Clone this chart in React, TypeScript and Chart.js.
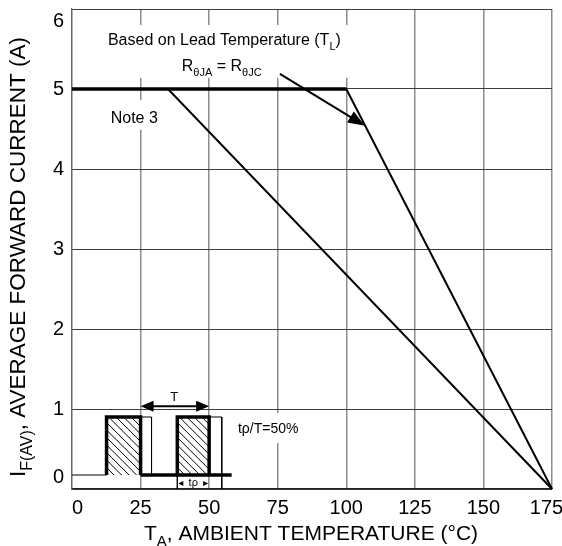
import React, { useEffect, useRef } from 'react';
import { Chart, registerables } from 'chart.js';
Chart.register(...registerables);

const FONT = '"Liberation Sans", Arial, Helvetica, sans-serif';

// axes
const tempTicks = [0, 25, 50, 75, 100, 125, 150, 175];
const currentTicks = [0, 1, 2, 3, 4, 5, 6];

// derating curves
const note3Temp = [0, 35, 175];
const note3Current = [5, 5, 0];
const leadTemp = [0, 100, 175];
const leadCurrent = [5, 5, 0];

// inset pulse waveform (in chart units)
const pulseStart = [12.6, 38.4];
const pulseEnd = [25, 50];
const pulseTrail = [29, 54.6];
const pulseHigh = 0.9;
const pulseLow = 0.175;
const waveEnd = 58.2;

type Part = { t: string; sub?: boolean };

function richWidth(ctx: CanvasRenderingContext2D, parts: Part[], size: number) {
  let w = 0;
  for (const p of parts) {
    ctx.font = `${p.sub ? Math.round(size * 0.7) : size}px ${FONT}`;
    w += ctx.measureText(p.t).width;
  }
  return w;
}

function rich(ctx: CanvasRenderingContext2D, parts: Part[], x: number, y: number, size: number, align: 'left' | 'center') {
  const w = richWidth(ctx, parts, size);
  let cx = align === 'center' ? x - w / 2 : x;
  ctx.textAlign = 'left';
  ctx.textBaseline = 'alphabetic';
  for (const p of parts) {
    ctx.font = `${p.sub ? Math.round(size * 0.7) : size}px ${FONT}`;
    ctx.fillText(p.t, cx, p.sub ? y + size * 0.3 : y);
    cx += ctx.measureText(p.t).width;
  }
}

function arrowHead(ctx: CanvasRenderingContext2D, x1: number, y1: number, x2: number, y2: number, len: number, half: number) {
  const a = Math.atan2(y2 - y1, x2 - x1);
  ctx.beginPath();
  ctx.moveTo(x2, y2);
  ctx.lineTo(x2 - len * Math.cos(a) + half * Math.sin(a), y2 - len * Math.sin(a) - half * Math.cos(a));
  ctx.lineTo(x2 - len * Math.cos(a) - half * Math.sin(a), y2 - len * Math.sin(a) + half * Math.cos(a));
  ctx.closePath();
  ctx.fill();
}

const annotations = {
  id: 'annotations',
  beforeDatasetsDraw(chart: any) {
    const { ctx, scales } = chart;
    const px = (v: number) => scales.x.getPixelForValue(v);
    const py = (v: number) => scales.y.getPixelForValue(v);
    ctx.save();
    ctx.fillStyle = '#fff';
    const box = (x1: number, x2: number, y1: number, y2: number) =>
      ctx.fillRect(px(x1), py(y1), px(x2) - px(x1), py(y2) - py(y1));
    box(10.2, 101.4, 5.8, 5.14);
    box(12, 34, 4.86, 4.49);
    box(58.3, 83.9, 0.95, 0.575);
    // pulses: white fill + hatch
    for (let i = 0; i < pulseStart.length; i++) {
      const l = px(pulseStart[i]), r = px(pulseEnd[i]);
      const t = py(pulseHigh), b = py(pulseLow);
      ctx.fillStyle = '#fff';
      ctx.fillRect(l, t, r - l, b - t);
      ctx.save();
      ctx.beginPath();
      ctx.rect(l, t, r - l, b - t);
      ctx.clip();
      ctx.strokeStyle = '#000';
      ctx.lineWidth = 1;
      const h = b - t;
      for (let s = l - h; s < r + 2; s += 7.5) {
        ctx.beginPath();
        ctx.moveTo(s, t);
        ctx.lineTo(s + h, b);
        ctx.stroke();
      }
      ctx.restore();
    }
    ctx.fillStyle = '#000';
    rich(ctx, [{ t: 'Based on Lead Temperature (T' }, { t: 'L', sub: true }, { t: ')' }], px(13.1), py(5.55), 16, 'left');
    rich(ctx, [{ t: 'R' }, { t: 'θJA', sub: true }, { t: ' = R' }, { t: 'θJC', sub: true }], px(40), py(5.22), 16, 'left');
    rich(ctx, [{ t: 'Note 3' }], px(14.1), py(4.57), 16, 'left');
    rich(ctx, [{ t: 'tρ/T=50%' }], px(60.5), py(0.7), 14, 'left');
    rich(ctx, [{ t: 'T' }], px(37.3), py(1.1), 13, 'center');
    rich(ctx, [{ t: 'tρ' }], px(44.2), py(0.035), 11, 'center');
    ctx.restore();
  },
  afterDatasetsDraw(chart: any) {
    const { ctx, scales } = chart;
    const px = (v: number) => scales.x.getPixelForValue(v);
    const py = (v: number) => scales.y.getPixelForValue(v);
    ctx.save();
    ctx.strokeStyle = '#000';
    ctx.fillStyle = '#000';
    // main pointer arrow
    const x1 = px(75.8), y1 = py(5.19), x2 = px(106.8), y2 = py(4.54);
    const a = Math.atan2(y2 - y1, x2 - x1);
    ctx.lineWidth = 2;
    ctx.beginPath();
    ctx.moveTo(x1, y1);
    ctx.lineTo(x2 - 10 * Math.cos(a), y2 - 10 * Math.sin(a));
    ctx.stroke();
    arrowHead(ctx, x1, y1, x2, y2, 17, 6.5);
    // period T arrow
    const ty = py(1.035);
    const ta = px(pulseEnd[0]), tb = px(pulseEnd[1]);
    ctx.beginPath();
    ctx.moveTo(ta + 6, ty);
    ctx.lineTo(tb - 6, ty);
    ctx.stroke();
    arrowHead(ctx, tb, ty, ta, ty, 13, 5.5);
    arrowHead(ctx, ta, ty, tb, ty, 13, 5.5);
    // tp dimension
    const dy = py(0.07);
    const da = px(pulseStart[1]), db = px(pulseEnd[1]);
    arrowHead(ctx, da + 10, dy, da + 1, dy, 5, 2.5);
    arrowHead(ctx, db - 10, dy, db - 1, dy, 5, 2.5);
    ctx.restore();
  },
  afterDraw(chart: any) {
    const { ctx, chartArea } = chart;
    ctx.save();
    ctx.fillStyle = '#000';
    const cx = (chartArea.left + chartArea.right) / 2 - 1;
    rich(ctx, [{ t: 'T' }, { t: 'A', sub: true }, { t: ', AMBIENT TEMPERATURE (°C)' }], cx, 540, 21, 'center');
    ctx.translate(25, (chartArea.top + chartArea.bottom) / 2 + 8);
    ctx.rotate(-Math.PI / 2);
    rich(ctx, [{ t: 'I' }, { t: 'F(AV)', sub: true }, { t: ', AVERAGE FORWARD CURRENT (A)' }], 0, 0, 22.5, 'center');
    ctx.restore();
  },
};

function pts(xs: number[], ys: number[]) {
  return xs.map((x, i) => ({ x, y: ys[i] }));
}

export default function App() {
  const ref = useRef<HTMLCanvasElement>(null);
  useEffect(() => {
    if (!ref.current) return;
    const thin: any[] = [
      { x: 0, y: pulseLow }, { x: pulseStart[0], y: pulseLow }, { x: pulseStart[0], y: null },
      { x: pulseEnd[0], y: pulseHigh }, { x: pulseTrail[0], y: pulseHigh }, { x: pulseTrail[0], y: pulseLow }, { x: pulseTrail[0], y: null },
      { x: pulseEnd[1], y: pulseHigh }, { x: pulseTrail[1], y: pulseHigh }, { x: pulseTrail[1], y: 0 }, { x: pulseTrail[1], y: null },
      { x: pulseStart[1], y: pulseLow }, { x: pulseStart[1], y: 0 },
    ];
    const thick: any[] = [];
    for (let i = 0; i < pulseStart.length; i++) {
      thick.push({ x: pulseStart[i], y: pulseLow }, { x: pulseStart[i], y: pulseHigh }, { x: pulseEnd[i], y: pulseHigh }, { x: pulseEnd[i], y: pulseLow }, { x: pulseEnd[i], y: null });
    }
    thick.push({ x: pulseEnd[0], y: pulseLow }, { x: waveEnd, y: pulseLow });

    const common = { pointRadius: 0, borderColor: '#000', fill: false, tension: 0, spanGaps: false, borderJoinStyle: 'miter', borderCapStyle: 'butt', clip: false };
    const chart = new Chart(ref.current, {
      type: 'line',
      data: {
        datasets: [
          { ...common, data: pts(leadTemp.slice(0, 2), leadCurrent.slice(0, 2)), borderWidth: 3.5 },
          { ...common, data: pts(leadTemp, leadCurrent), borderWidth: 2 },
          { ...common, data: pts(note3Temp, note3Current), borderWidth: 2 },
          { ...common, data: thick, borderWidth: 3.5 },
          { ...common, data: thin, borderWidth: 1 },
        ] as any,
      },
      options: {
        animation: false,
        responsive: false,
        maintainAspectRatio: false,
        parsing: false as any,
        layout: { padding: { top: 9, right: 10, left: 0, bottom: 0 } },
        plugins: { legend: { display: false }, tooltip: { enabled: false } },
        scales: {
          x: {
            type: 'linear',
            min: 0,
            max: 175,
            afterBuildTicks: (s: any) => { s.ticks = tempTicks.map((v) => ({ value: v })); },
            afterFit: (s: any) => { s.height = 57; s.paddingLeft = 0; s.paddingRight = 0; },
            grid: { color: '#8c8c8c', lineWidth: 1.5, drawTicks: false },
            border: { color: '#222', width: 1.2 },
            ticks: {
              font: { family: FONT, size: 20 }, color: '#000', padding: 7, maxRotation: 0, autoSkip: false,
              callback: (v: any) => (v === 0 ? '  0' : v === 175 ? '175  ' : String(v)),
            },
          },
          y: {
            type: 'linear',
            min: 0,
            max: 6,
            afterBuildTicks: (s: any) => { s.ticks = currentTicks.map((v) => ({ value: v })); },
            afterFit: (s: any) => { s.width = 72; s.paddingTop = 0; s.paddingBottom = 0; },
            grid: { color: '#3c3c3c', lineWidth: 1, drawTicks: false },
            border: { color: '#666', width: 1.2 },
            ticks: {
              font: { family: FONT, size: 20 }, color: '#000', padding: 8, autoSkip: false,
              callback: (v: any) => (v === 6 ? ['', '6'] : v === 0 ? ['0', ''] : String(v)),
            },
          },
        },
      } as any,
      plugins: [annotations],
    });
    return () => chart.destroy();
  }, []);
  return (
    <div style={{ position: 'absolute', left: 0, top: 0, width: 562, height: 546, background: '#fff' }}>
      <canvas ref={ref} width={562} height={546} style={{ display: 'block' }} />
    </div>
  );
}
